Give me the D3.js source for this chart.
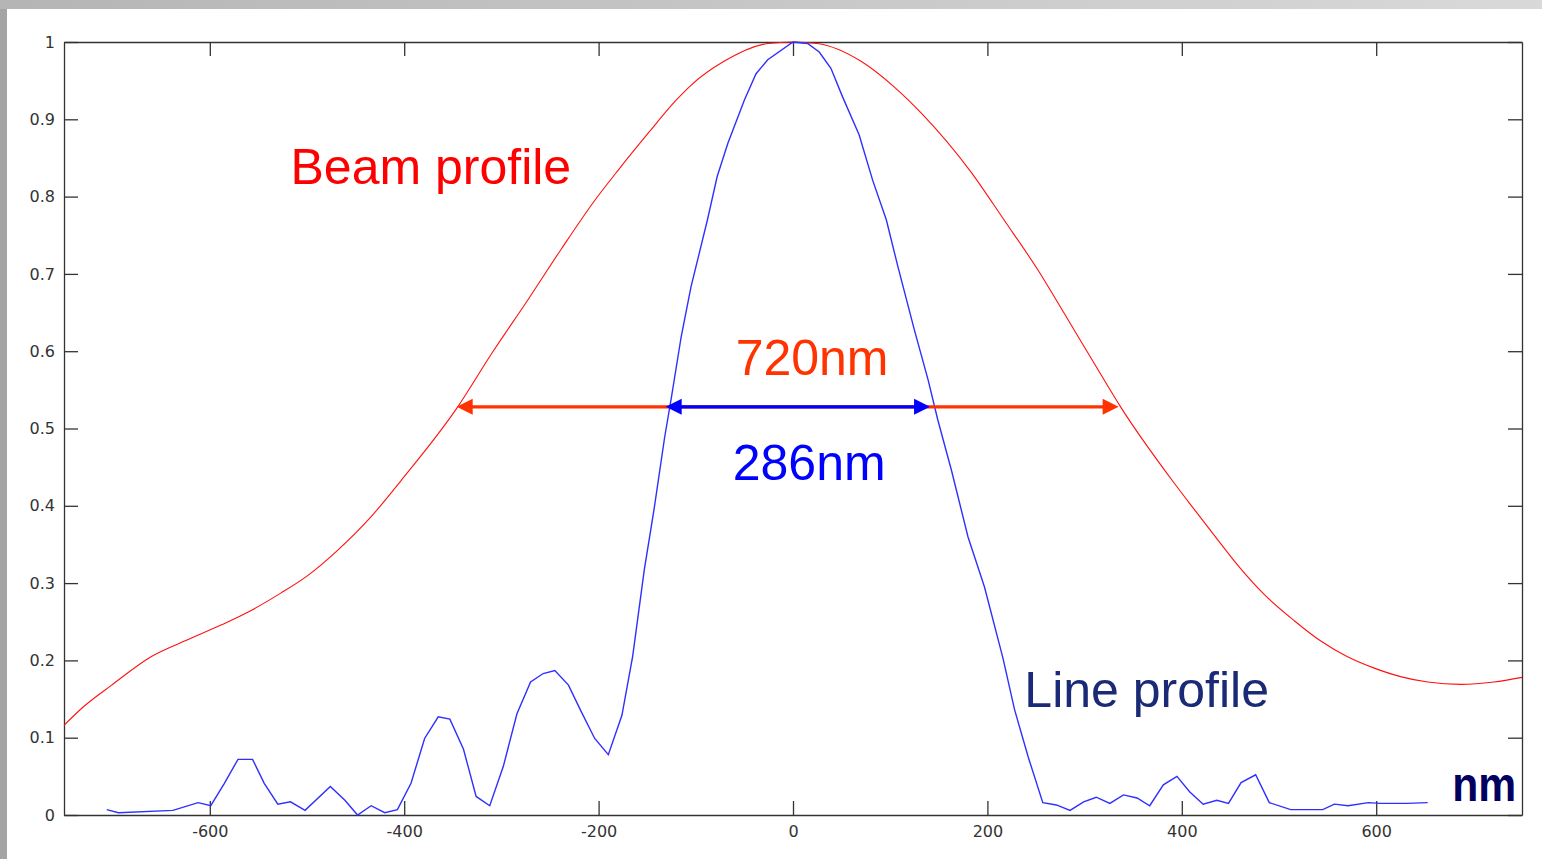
<!DOCTYPE html>
<html>
<head>
<meta charset="utf-8">
<script src="https://cdn.jsdelivr.net/npm/d3@7"></script>
<style>
    html, body { margin: 0; padding: 0; background: #fff; overflow: hidden; }
    svg { display: block; }
    .axis .tick text { font-family: 'DejaVu Sans', sans-serif; font-size: 16px; fill: #333; }
    .axis .tick line, .axis .domain { stroke: #333; stroke-width: 1.3; }
    .note { font-family: 'Liberation Sans', Arial, sans-serif; font-size: 50px; }
</style>
</head>
<body>
<div class="chart"></div>
<script>
// Beam profile (red), position in nm / normalised intensity
const beamX = [-750, -730, -701, -660, -626, -588, -557, -527, -499, -468, -434, -403, -346, -310,
    -273, -239, -204, -180, -149, -120, -105, -71, -26, 0, 25, 70, 104, 132, 183, 217, 252, 279,
    310, 337, 390, 413, 437, 459, 485, 516, 543, 570, 598, 625, 653, 687, 721, 750];
const beamY = [0.116, 0.140, 0.168, 0.205, 0.225, 0.246, 0.265, 0.287, 0.310, 0.343, 0.386, 0.433, 0.526, 0.597,
    0.666, 0.731, 0.795, 0.834, 0.882, 0.925, 0.944, 0.975, 0.998, 1.0, 0.998, 0.975, 0.942, 0.908, 0.832, 0.770, 0.705, 0.649,
    0.584, 0.528, 0.433, 0.395, 0.356, 0.321, 0.285, 0.251, 0.225, 0.205, 0.190, 0.179, 0.172, 0.169, 0.172, 0.178];

// Line profile (blue)
const lineX = [-706, -694, -638, -612, -599, -585, -571, -556, -544, -530, -517, -502, -476, -461, -448,
    -434, -420, -407, -393, -379, -365, -353, -339, -326, -312, -298, -284, -270, -257, -245, -231,
    -218, -204, -190, -176, -165, -153, -143, -132, -125, -115, -105, -88, -78, -67, -50, -38, -26, 0,
    15, 27, 39, 51, 68, 82, 96, 108, 125, 139, 149, 163, 180, 197, 216, 228, 242, 257, 271, 285,
    299, 312, 326, 340, 354, 367, 381, 395, 408, 422, 436, 448, 461, 476, 490, 512, 545, 557, 571,
    592, 604, 631, 653];
const lineY = [0.007, 0.003, 0.006, 0.016, 0.012, 0.041, 0.072, 0.072, 0.041, 0.014, 0.017, 0.006, 0.037, 0.019, 0.0,
    0.012, 0.003, 0.007, 0.041, 0.099, 0.127, 0.124, 0.085, 0.024, 0.012, 0.063, 0.131, 0.172, 0.183, 0.187, 0.168,
    0.134, 0.099, 0.078, 0.129, 0.205, 0.317, 0.395, 0.489, 0.541, 0.619, 0.683, 0.770, 0.826, 0.869, 0.925, 0.959, 0.977, 1.0,
    0.998, 0.987, 0.966, 0.929, 0.880, 0.821, 0.770, 0.709, 0.627, 0.563, 0.511, 0.446, 0.360, 0.295, 0.203, 0.136, 0.075, 0.016, 0.013, 0.006,
    0.017, 0.023, 0.015, 0.026, 0.022, 0.012, 0.039, 0.050, 0.030, 0.014, 0.019, 0.015, 0.042, 0.052, 0.016, 0.007, 0.007, 0.014, 0.012,
    0.016, 0.015, 0.015, 0.016];

const xTicks = [-600, -400, -200, 0, 200, 400, 600];
const xTickLabels = ['-600', '-400', '-200', '0', '200', '400', '600'];
const yTicks = [0, 0.1, 0.2, 0.3, 0.4, 0.5, 0.6, 0.7, 0.8, 0.9, 1];
const yTickLabels = ['0', '0.1', '0.2', '0.3', '0.4', '0.5', '0.6', '0.7', '0.8', '0.9', '1'];

// full width arrows (nm) and the level they are drawn at
const beamWidth = [-346, 335];
const lineWidth = [-131, 141];
const widthLevel = 0.528;
const widthLabels = ['720nm', '286nm'];
const curveLabels = ['Beam profile', 'Line profile'];
const unitLabel = 'nm';

let svg_width = 1542,
    svg_height = 859,
    margin = { top: 42, right: 20, bottom: 44, left: 64 },
    plot_width = svg_width - margin.left - margin.right,
    plot_height = svg_height - margin.top - margin.bottom;

let svg = d3.select('.chart')
    .append('svg')
    .attr('width', svg_width)
    .attr('height', svg_height);

// grey frame round the slide
let defs = svg.append('defs');
let topGrad = defs.append('linearGradient')
    .attr('id', 'topband')
    .attr('x1', 0).attr('x2', '100%').attr('y1', 0).attr('y2', 0);
topGrad.append('stop').attr('offset', 0).style('stop-color', '#b5b5b5');
topGrad.append('stop').attr('offset', 1).style('stop-color', '#d9d9d9');

svg.append('rect')
    .attr('width', svg_width)
    .attr('height', svg_height)
    .attr('fill', '#a4a4a4');
svg.append('rect')
    .attr('width', svg_width)
    .attr('height', 9)
    .attr('fill', 'url(#topband)');
svg.append('rect')
    .attr('x', 7)
    .attr('y', 9)
    .attr('width', svg_width - 7)
    .attr('height', svg_height - 9)
    .attr('fill', '#fff');

let g = svg.append('g')
    .attr('transform', 'translate(' + margin.left + ',' + margin.top + ')');

let x = d3.scaleLinear()
    .domain([-750, 750])
    .range([0, plot_width]);

let y = d3.scaleLinear()
    .domain([0, 1])
    .range([plot_height, 0]);

// Axes, MATLAB style box with inward ticks
g.append('g')
    .attr('class', 'axis')
    .attr('transform', 'translate(0,' + plot_height + ')')
    .call(d3.axisBottom(x).tickValues(xTicks).tickSizeInner(-14).tickSizeOuter(0).tickPadding(11)
        .tickFormat(function(d, i) { return xTickLabels[i]; }));
g.append('g')
    .attr('class', 'axis')
    .call(d3.axisTop(x).tickValues(xTicks).tickSizeInner(-14).tickSizeOuter(0).tickFormat(''));
g.append('g')
    .attr('class', 'axis')
    .call(d3.axisLeft(y).tickValues(yTicks).tickSizeInner(-14).tickSizeOuter(0).tickPadding(9)
        .tickFormat(function(d, i) { return yTickLabels[i]; }));
g.append('g')
    .attr('class', 'axis')
    .attr('transform', 'translate(' + plot_width + ',0)')
    .call(d3.axisRight(y).tickValues(yTicks).tickSizeInner(-14).tickSizeOuter(0).tickFormat(''));

// Curves
let beamLine = d3.line()
    .x(function(d, k) { return x(beamX[k]); })
    .y(function(d) { return y(d); })
    .curve(d3.curveMonotoneX);

let profileLine = d3.line()
    .x(function(d, k) { return x(lineX[k]); })
    .y(function(d) { return y(d); });

g.append('path')
    .datum(beamY)
    .attr('d', beamLine)
    .attr('fill', 'none')
    .attr('stroke', '#ff1010')
    .attr('stroke-width', 1.1);

g.append('path')
    .datum(lineY)
    .attr('d', profileLine)
    .attr('fill', 'none')
    .attr('stroke', '#2f2fff')
    .attr('stroke-width', 1.4);

// Width arrows
function arrow(ends, color) {
    let x1 = x(ends[0]),
        x2 = x(ends[1]),
        yy = y(widthLevel),
        head = 16,
        half = 8;
    let a = g.append('g');
    a.append('line')
        .attr('x1', x1 + head - 2)
        .attr('x2', x2 - head + 2)
        .attr('y1', yy)
        .attr('y2', yy)
        .attr('stroke', color)
        .attr('stroke-width', 3.2);
    a.append('path')
        .attr('d', 'M' + x1 + ',' + yy + 'L' + (x1 + head) + ',' + (yy - half) + 'L' + (x1 + head) + ',' + (yy + half) + 'Z')
        .attr('fill', color);
    a.append('path')
        .attr('d', 'M' + x2 + ',' + yy + 'L' + (x2 - head) + ',' + (yy - half) + 'L' + (x2 - head) + ',' + (yy + half) + 'Z')
        .attr('fill', color);
}
arrow(beamWidth, '#ff3300');
arrow(lineWidth, '#0000ff');

// Labels
g.append('text')
    .attr('class', 'note')
    .attr('x', x(-517))
    .attr('y', y(0.816))
    .attr('fill', '#ff0000')
    .text(curveLabels[0]);

g.append('text')
    .attr('class', 'note')
    .attr('x', x(238))
    .attr('y', y(0.140))
    .attr('fill', '#1b2a76')
    .text(curveLabels[1]);

g.append('text')
    .attr('class', 'note')
    .attr('x', x(-59))
    .attr('y', y(0.569))
    .attr('fill', '#ff3300')
    .text(widthLabels[0]);

g.append('text')
    .attr('class', 'note')
    .attr('x', x(-62))
    .attr('y', y(0.433))
    .attr('fill', '#0000ff')
    .text(widthLabels[1]);

g.append('text')
    .attr('class', 'note')
    .attr('x', x(744))
    .attr('y', y(0.018))
    .attr('text-anchor', 'end')
    .attr('fill', '#00005e')
    .style('font-weight', 'bold')
    .style('font-size', '48px')
    .attr('textLength', 64)
    .attr('lengthAdjust', 'spacingAndGlyphs')
    .text(unitLabel);
</script>
</body>
</html>
